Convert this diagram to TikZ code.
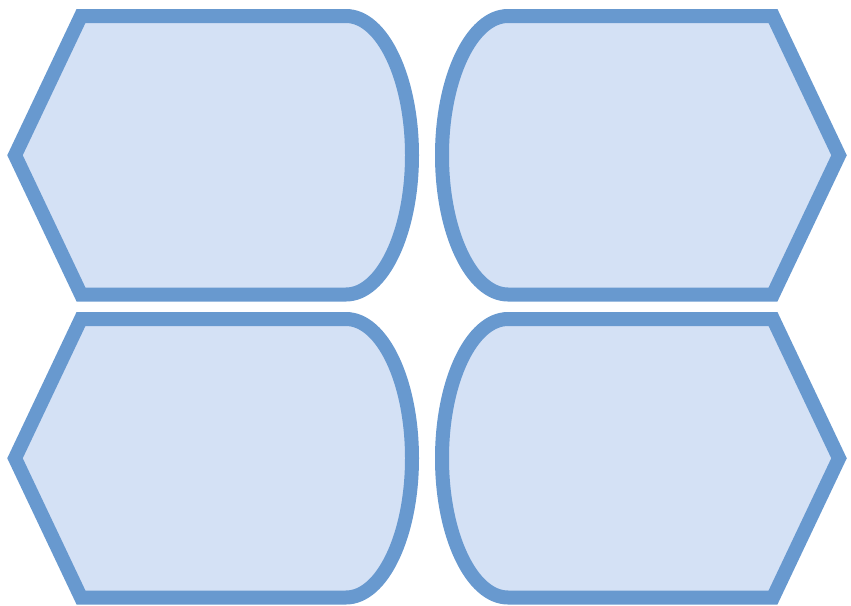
\documentclass[tikz,border=0pt]{standalone}
\usepackage{xcolor}
\definecolor{displine}{RGB}{104,153,207}
\definecolor{dispfill}{RGB}{212,225,245}
\usepackage{tikz}

\begin{document}
\begin{tikzpicture}[
    x=1pt, y=-1pt,
    disp/.style={draw=displine, fill=dispfill, line width=14pt, line join=miter},
]
\useasboundingbox (0,0) rectangle (851,605);

\foreach \dy in {0,303} {
\begin{scope}[shift={(0,\dy)}]
% display shape, point on the left
\draw[disp] (15,155.25) -- (81,16) -- (346,16)
    .. controls (382.45,16) and (412,78.34) .. (412,155.25)
    .. controls (412,232.16) and (382.45,294.5) .. (346,294.5)
    -- (81,294.5) -- cycle;
% display shape, point on the right
\draw[disp] (839,155.25) -- (773,16) -- (508,16)
    .. controls (471.55,16) and (442,78.34) .. (442,155.25)
    .. controls (442,232.16) and (471.55,294.5) .. (508,294.5)
    -- (773,294.5) -- cycle;
\end{scope}
}
\end{tikzpicture}
\end{document}
